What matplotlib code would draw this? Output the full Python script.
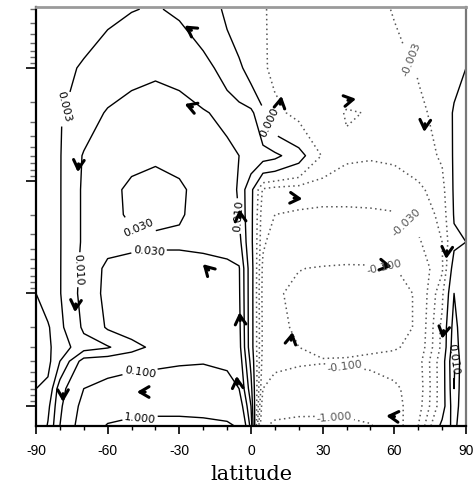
import numpy as np
import matplotlib
matplotlib.use('Agg')
import matplotlib.pyplot as plt
from matplotlib.ticker import FixedLocator, LogLocator, NullFormatter, MultipleLocator

plt.rcParams['axes.unicode_minus'] = False

# ---------------- data ----------------
lats = [-90, -85, -80, -70, -60, -50, -40, -30, -20, -10, -5, 0, 5, 10, 20, 30, 40, 50, 60, 70, 80, 85, 90]
levs = [0.3, 1, 2.5, 6, 12, 20, 35, 60, 100, 200, 300, 400, 700, 1000, 1500]

psi_0p3 = [0, 0.0005, 0.001, 0.0018, 0.0024, 0.0029, 0.0032, 0.0026, 0.0013, -0.0003, -0.001, -0.002, -0.0028, -0.0035, -0.004, -0.0045, -0.005, -0.0042, -0.0028, -0.002, -0.001, -0.0004, 0]
psi_1 = [0, 0.001, 0.002, 0.0035, 0.006, 0.008, 0.009, 0.008, 0.005, 0.0015, 0.0003, -0.0008, -0.0025, -0.004, -0.005, -0.006, -0.007, -0.0065, -0.0048, -0.0028, -0.0013, -0.0005, 0]
psi_2p5 = [0, 0.0012, 0.0028, 0.006, 0.011, 0.014, 0.015, 0.014, 0.011, 0.0075, 0.006, 0.0045, 0.0003, -0.002, -0.0045, -0.007, -0.0105, -0.0097, -0.0065, -0.0038, -0.002, 0.0002, 0.00001]
psi_6 = [0, 0.0012, 0.0028, 0.011, 0.02, 0.026, 0.028, 0.026, 0.02, 0.014, 0.01, 0.008, 0.006, 0.0045, 0.0008, -0.0035, -0.0085, -0.0092, -0.0085, -0.0055, -0.0025, 0.0002, 0.00001]
psi_12 = [0, 0.0012, 0.0028, 0.012, 0.025, 0.034, 0.037, 0.033, 0.024, 0.015, 0.009, 0.0005, -0.012, -0.016, -0.018, -0.02, -0.02, -0.02, -0.018, -0.013, -0.005, 0.0002, 0.00001]
psi_20 = [0, 0.0012, 0.0028, 0.012, 0.025, 0.033, 0.035, 0.032, 0.024, 0.016, 0.01, 0.0005, -0.02, -0.03, -0.035, -0.038, -0.038, -0.036, -0.033, -0.022, -0.007, 0.0001, 0.00001]
psi_35 = [0, 0.0012, 0.0028, 0.012, 0.022, 0.025, 0.026, 0.026, 0.024, 0.02, 0.015, 0.0005, -0.025, -0.05, -0.06, -0.065, -0.065, -0.06, -0.05, -0.035, -0.01, -0.0003, 0]
psi_60 = [0, 0.0012, 0.0028, 0.014, 0.038, 0.042, 0.046, 0.046, 0.044, 0.04, 0.033, 0.001, -0.04, -0.08, -0.098, -0.105, -0.11, -0.11, -0.105, -0.07, -0.012, 0.001, 0.00001]
psi_100 = [0, 0.001, 0.0028, 0.015, 0.04, 0.055, 0.06, 0.06, 0.055, 0.045, 0.035, 0.001, -0.045, -0.09, -0.12, -0.15, -0.16, -0.16, -0.14, -0.09, -0.004, 0.003, 0.00001]
psi_200 = [-0.00001, -0.0002, 0.0022, 0.012, 0.034, 0.05, 0.06, 0.065, 0.06, 0.05, 0.04, 0.001, -0.04, -0.08, -0.115, -0.15, -0.165, -0.16, -0.14, -0.09, -0.002, 0.006, 0.00001]
psi_300 = [-0.00001, -0.0004, 0.0015, 0.006, 0.009, 0.02, 0.04, 0.06, 0.07, 0.06, 0.045, 0.001, -0.04, -0.075, -0.1, -0.12, -0.13, -0.12, -0.11, -0.075, -0.002, 0.008, 0.00001]
psi_400 = [-0.00001, -0.0005, 0.003, 0.05, 0.06, 0.07, 0.08, 0.09, 0.095, 0.085, 0.06, 0.002, -0.05, -0.08, -0.09, -0.095, -0.09, -0.08, -0.07, -0.05, -0.001, 0.012, 0.00001]
psi_700 = [-0.00001, 0.0005, 0.02, 0.1, 0.15, 0.2, 0.2, 0.2, 0.18, 0.15, 0.1, 0.005, -0.1, -0.15, -0.18, -0.2, -0.2, -0.18, -0.12, -0.06, -0.001, 0.01, 0.00001]
psi_1000 = [-0.00001, 0.002, 0.025, 0.15, 0.35, 0.5, 0.55, 0.55, 0.5, 0.4, 0.25, 0.01, -0.25, -0.45, -0.55, -0.55, -0.5, -0.35, -0.15, -0.05, -0.001, 0.008, 0.00001]
psi_1500 = [-0.00001, 0.0035, 0.03, 0.2, 1.2, 1.8, 2.0, 2.0, 1.8, 1.4, 0.8, 0.02, -0.8, -1.5, -1.9, -2.0, -1.8, -1.2, -0.2, -0.03, 0.0005, 0.005, 0.00001]

contour_levels = [-1.0, -0.1, -0.03, -0.01, -0.003, 0.0, 0.003, 0.01, 0.03, 0.1, 1.0]

xticks_major = [-90, -60, -30, 0, 30, 60, 90]
xtick_labels = ['-90', '-60', '-30', '0', '30', '60', '90']

# arrows: latitude, level, screen direction (deg)
arrow_lat = [-27.8, -27.8, -72.5, -73.7, -78.7, -47.8, -20.2, -4.8, -4.8, -6.0, 12.8, 21.5, 17.4, 59.0, 81.7, 80.0, 56.6, 44.0, 72.5]
arrow_lev = [0.42, 2.09, 8.4, 147, 920, 750, 55, 17.9, 147, 540, 1.77, 14.5, 220, 58, 49.6, 253, 1220, 1.88, 3.7]
arrow_dir = [145, 160, 265, 265, 270, 180, 135, 95, 95, 95, 80, -5, 80, -10, 265, 260, 175, 10, 265]

# contour label anchor points (lat, level)
pos_label_pts = [(-79.5, 2.1), (-71.6, 60), (-47, 25), (-42, 55), (-46.5, 490), (-46.5, 1250), (7, 3.0), (85, 380), (-5.5, 20)]
neg_label_pts = [(66, 0.83), (67.5, 21), (55, 91), (35, 1170), (39, 520)]

# ---------------- figure ----------------
psi = np.array([psi_0p3, psi_1, psi_2p5, psi_6, psi_12, psi_20, psi_35, psi_60,
                psi_100, psi_200, psi_300, psi_400, psi_700, psi_1000, psi_1500])

EPS = 1e-3
def tr(v):
    v = np.asarray(v, dtype=float)
    return np.sign(v) * np.log10(1 + np.abs(v) / EPS)

Z = tr(psi)
tl = tr(contour_levels)
fmt = {tl[i]: '%.3f' % contour_levels[i] for i in range(len(contour_levels))}

fig = plt.figure(figsize=(4.77, 4.89), dpi=100)
ax = fig.add_axes([36 / 477, 1 - 427 / 489, 430 / 477, 419 / 489])
ax.set_yscale('log')

neg_l = [t for t, v in zip(tl, contour_levels) if v < 0]
pos_l = [t for t, v in zip(tl, contour_levels) if v >= 0]

cs_neg = ax.contour(lats, levs, Z, levels=neg_l, colors='#555555',
                    linestyles=[(0, (1, 2.2))], linewidths=1.1)
cs_pos = ax.contour(lats, levs, Z, levels=pos_l, colors='black',
                    linestyles='solid', linewidths=1.0)

ax.clabel(cs_pos, fmt=fmt, fontsize=8, inline=True, inline_spacing=2,
          manual=pos_label_pts)
ax.clabel(cs_neg, fmt=fmt, fontsize=8, inline=True, inline_spacing=2,
          manual=neg_label_pts)

for la, pp, ang in zip(arrow_lat, arrow_lev, arrow_dir):
    dx, dy = np.cos(np.radians(ang)), np.sin(np.radians(ang))
    ax.annotate('', xy=(la, pp), xytext=(-6 * dx, -6 * dy), textcoords='offset points',
                arrowprops=dict(arrowstyle='->,head_length=0.55,head_width=0.32',
                                lw=2.2, color='black', shrinkA=0, shrinkB=0,
                                mutation_scale=12))

ax.set_xlim(-90, 90)
ax.set_ylim(1502, 0.2876)

ax.xaxis.set_major_locator(FixedLocator(xticks_major))
ax.set_xticklabels(xtick_labels, fontsize=10, family='Liberation Sans')
ax.xaxis.set_minor_locator(MultipleLocator(10))
ax.tick_params(axis='x', which='major', direction='out', length=6, width=1.2, pad=6.5)
ax.tick_params(axis='x', which='minor', direction='out', length=3, width=1.0)

ax.yaxis.set_major_locator(LogLocator(base=10, numticks=10))
ax.yaxis.set_minor_locator(LogLocator(base=10, subs=np.arange(2, 10), numticks=20))
ax.yaxis.set_major_formatter(NullFormatter())
ax.yaxis.set_minor_formatter(NullFormatter())
ax.tick_params(axis='y', which='major', direction='out', length=7.5, width=1.2)
ax.tick_params(axis='y', which='minor', direction='out', length=4.5, width=1.0, color='#666666')

for s in ['left', 'bottom']:
    ax.spines[s].set_color('black')
    ax.spines[s].set_linewidth(1.6)
ax.spines['top'].set_color('#9a9a9a')
ax.spines['top'].set_linewidth(2.0)
ax.spines['right'].set_color('#777777')
ax.spines['right'].set_linewidth(1.6)

ax.set_xlabel('latitude', fontsize=15, family='DejaVu Serif', labelpad=5)

fig.savefig('out.png', dpi=100)
